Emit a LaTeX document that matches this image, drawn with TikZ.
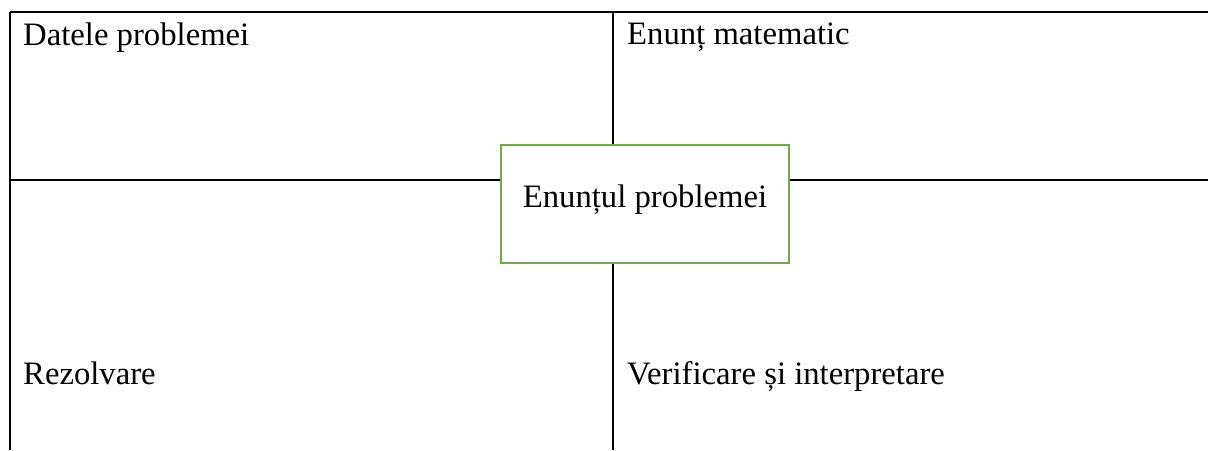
\documentclass[tikz,border=0pt]{standalone}
\usepackage{fontspec}
\setmainfont{Liberation Serif}
\definecolor{boxgreen}{HTML}{70AD47}
\begin{document}
\begin{tikzpicture}[x=1pt,y=-1pt,
  rule/.style={line width=2pt,black},
  lbl/.style={anchor=base west,inner sep=0pt,font=\fontsize{32.7}{39}\selectfont},
  centerbox/.style={draw=boxgreen,line width=2.6pt,fill=white,minimum width=288pt,minimum height=118pt,inner sep=0pt}]
\useasboundingbox (0,0) rectangle (1208,450);
\coordinate (tl) at (10,12);
\coordinate (tr) at (1208,12);
\coordinate (bl) at (10,450);
\coordinate (ml) at (10,180);
\coordinate (mr) at (1208,180);
\coordinate (mt) at (613,12);
\coordinate (mb) at (613,450);
\draw[rule] (tl) -- (tr);
\draw[rule] (tl) -- (bl);
\draw[rule] (ml) -- (mr);
\draw[rule] (mt) -- (mb);
\node[centerbox] (center) at (645,204) {};
\node[lbl] (t1) at (23,45) {Datele problemei};
\node[lbl] (t2) at (627,44) {Enunț matematic};
\node[lbl,anchor=base] (t3) at (645,207) {Enunțul problemei};
\node[lbl] (t4) at (23,384) {Rezolvare};
\node[lbl] (t5) at (627,384) {Verificare și interpretare};
\end{tikzpicture}
\end{document}
